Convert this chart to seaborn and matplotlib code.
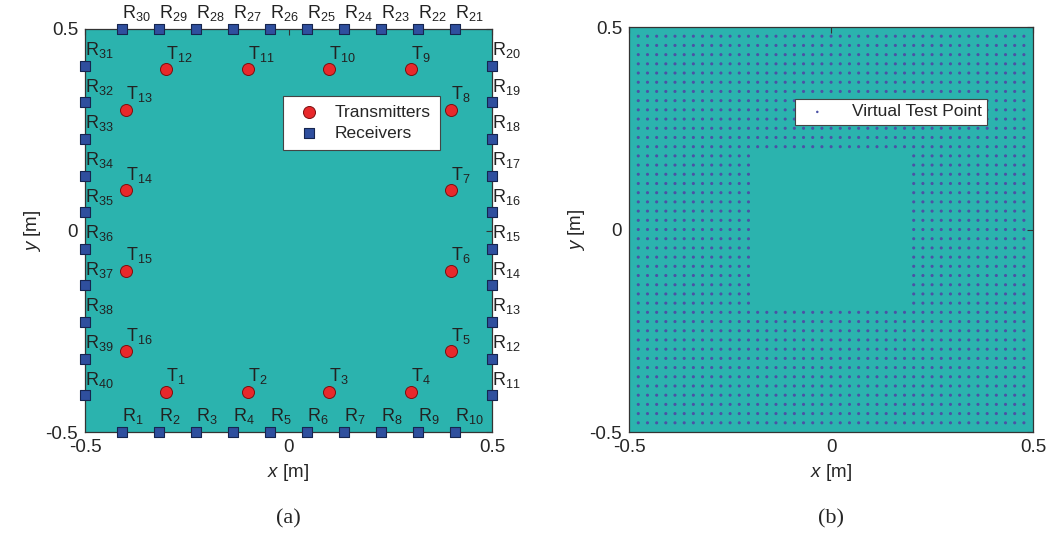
import numpy as np
import pandas as pd
import matplotlib
matplotlib.use("Agg")
import matplotlib.pyplot as plt
import seaborn as sns

sns.set_style("white")
plt.rcParams["font.family"] = ["Liberation Sans", "DejaVu Sans"]
plt.rcParams["mathtext.fontset"] = "custom"
plt.rcParams["mathtext.rm"] = "Liberation Sans"
plt.rcParams["mathtext.it"] = "Liberation Sans:italic"

# positions of the 10 receivers along each side of the square
side_pos = [-0.409, -0.318, -0.227, -0.136, -0.045, 0.045, 0.136, 0.227, 0.318, 0.409]

# transmitters T1..T16
tx_x = [-0.3, -0.1, 0.1, 0.3, 0.4, 0.4, 0.4, 0.4, 0.3, 0.1, -0.1, -0.3, -0.4, -0.4, -0.4, -0.4]
tx_y = [-0.4, -0.4, -0.4, -0.4, -0.3, -0.1, 0.1, 0.3, 0.4, 0.4, 0.4, 0.4, 0.3, 0.1, -0.1, -0.3]

# virtual test point grid coordinates (same on x and y)
grid_pos = [-0.4773, -0.4545, -0.4318, -0.4091, -0.3864, -0.3636, -0.3409, -0.3182,
            -0.2955, -0.2727, -0.25, -0.2273, -0.2045, -0.1818, -0.1591, -0.1364,
            -0.1136, -0.0909, -0.0682, -0.0455, -0.0227, 0.0, 0.0227, 0.0455,
            0.0682, 0.0909, 0.1136, 0.1364, 0.1591, 0.1818, 0.2045, 0.2273,
            0.25, 0.2727, 0.2955, 0.3182, 0.3409, 0.3636, 0.3864, 0.4091,
            0.4318, 0.4545, 0.4773]
hole_half = 0.2  # empty square in the middle

# receivers R1..R40: bottom (left->right), right (up), top (right->left), left (down)
rx_x = side_pos + [0.5] * 10 + side_pos[::-1] + [-0.5] * 10
rx_y = [-0.5] * 10 + side_pos + [0.5] * 10 + side_pos[::-1]
rx = pd.DataFrame({"x": rx_x, "y": rx_y})
tx = pd.DataFrame({"x": tx_x, "y": tx_y})

gx, gy = np.meshgrid(grid_pos, grid_pos)
pts = pd.DataFrame({"x": gx.ravel(), "y": gy.ravel()})
pts = pts[~((pts.x.abs() < hole_half) & (pts.y.abs() < hole_half))]

bg = "#2bb3ae"
fs = 13.5
fig = plt.figure(figsize=(10.52, 5.35), dpi=100)
ax1 = fig.add_axes([0.0808, 0.1925, 0.3869, 0.7533])
ax2 = fig.add_axes([0.598, 0.1925, 0.384, 0.757])

for ax in (ax1, ax2):
    ax.set_facecolor(bg)
    ax.set_xlim(-0.5, 0.5)
    ax.set_ylim(-0.5, 0.5)
    ax.set_xticks([-0.5, 0, 0.5])
    ax.set_yticks([-0.5, 0, 0.5])
    ax.set_xticklabels(["-0.5", "0", "0.5"])
    ax.set_yticklabels(["-0.5", "0", "0.5"])
    ax.tick_params(direction="in", length=4, width=0.8, color="#333333",
                   labelsize=fs, top=True, right=True, pad=5)
    for sp in ax.spines.values():
        sp.set_color("#333333")
        sp.set_linewidth(0.9)

# panel (a)
sns.scatterplot(data=tx, x="x", y="y", ax=ax1, s=75, color="#e8282b",
                edgecolor="#7a1010", linewidth=0.7, marker="o", label="Transmitters",
                clip_on=False, zorder=4)
sns.scatterplot(data=rx, x="x", y="y", ax=ax1, s=55, color="#2f4f9e",
                edgecolor="#16254f", linewidth=0.8, marker="s", label="Receivers",
                clip_on=False, zorder=5)
for i, (x, y) in enumerate(zip(tx_x, tx_y)):
    ax1.annotate(f"T$_{{{i + 1}}}$", (x, y), xytext=(0, 4), textcoords="offset points",
                 ha="left", va="bottom", fontsize=13, color="#222222")
for i, (x, y) in enumerate(zip(rx_x, rx_y)):
    ax1.annotate(f"R$_{{{i + 1}}}$", (x, y), xytext=(0, 4), textcoords="offset points",
                 ha="left", va="bottom", fontsize=13, color="#222222",
                 annotation_clip=False)
leg = ax1.legend(loc="upper left", bbox_to_anchor=(0.486, 0.834), fontsize=12.5,
                 frameon=True, fancybox=False, framealpha=1, edgecolor="#444444",
                 borderpad=0.5, handletextpad=0.5, labelspacing=0.35, borderaxespad=0)
leg.get_frame().set_linewidth(0.8)
ax1.set_xlabel("$x$ [m]", fontsize=fs, labelpad=4)
ax1.set_ylabel("$y$ [m]", fontsize=fs, labelpad=2)

# panel (b)
sns.scatterplot(data=pts, x="x", y="y", ax=ax2, s=5, color="#4b52a6",
                edgecolor="none", linewidth=0, marker="o", label="Virtual Test Point")
leg2 = ax2.legend(loc="upper left", bbox_to_anchor=(0.41, 0.822), fontsize=12.5,
                  frameon=True, fancybox=False, framealpha=1, edgecolor="#444444",
                  borderpad=0.3, handletextpad=1.0, borderaxespad=0, markerscale=0.8)
leg2.get_frame().set_linewidth(0.8)
ax2.set_xlabel("$x$ [m]", fontsize=fs, labelpad=4)
ax2.set_ylabel("$y$ [m]", fontsize=fs, labelpad=2)

fig.text(0.274, 0.03, "(a)", ha="center", va="center", fontsize=16,
         family=["Liberation Serif", "DejaVu Serif"])
fig.text(0.79, 0.03, "(b)", ha="center", va="center", fontsize=16,
         family=["Liberation Serif", "DejaVu Serif"])

fig.savefig("out.png", dpi=100)
